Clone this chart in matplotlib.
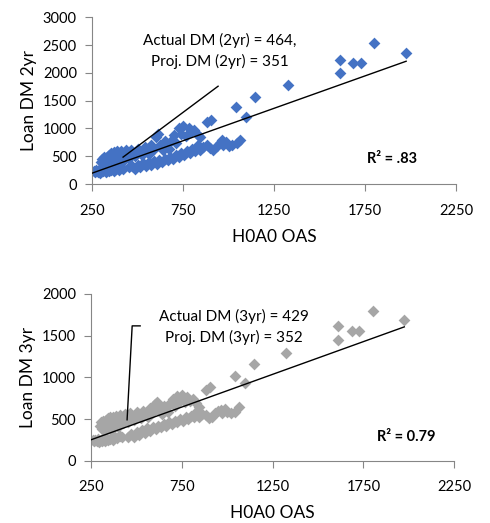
import matplotlib
matplotlib.use("Agg")
import matplotlib.pyplot as plt

plt.rcParams["font.family"] = ["Lato", "DejaVu Sans"]

# H0A0 OAS (shared x for both panels)
oas = [258, 265, 272, 280, 288, 295, 302, 310, 318, 325, 335, 345, 355, 368, 380, 395, 410, 420,
       300, 305, 312, 318, 322, 328, 333, 338, 342, 348, 352, 358, 362, 368, 372, 378, 385, 392,
       400, 408, 415, 425, 435, 445, 455, 465, 475, 488, 500, 512, 525, 538, 550, 562, 575, 588,
       600, 612, 625, 638, 650, 662, 675, 688, 700, 712, 725, 738, 750, 765, 780, 795, 810, 830, 845,
       455, 470, 485, 500, 515, 530, 545, 560, 575, 590, 605, 620, 635, 650, 665, 680, 695, 710,
       725, 740, 755, 770, 785, 800, 815, 830, 845, 860, 880, 900, 915, 935, 950, 965, 970, 985,
       1000, 1020, 1045, 1063,
       880, 905, 1040, 1095, 1145, 1325, 1610, 1610, 1685, 1728, 1800, 1975]

dm_2yr = [230, 210, 250, 220, 260, 205, 240, 230, 270, 215, 250, 235, 260, 240, 280, 255, 300, 270,
          400, 460, 360, 480, 420, 330, 490, 430, 520, 380, 560, 470, 340, 580, 500, 420, 590, 480,
          380, 600, 520, 440, 610, 540, 470, 620, 560, 500, 640, 590, 520, 660, 610, 540, 700, 640,
          850, 900, 700, 620, 780, 720, 640, 800, 880, 740, 1000, 900, 1040, 860, 1000, 940, 980, 880, 840,
          300, 330, 280, 350, 310, 380, 320, 400, 350, 420, 370, 440, 400, 460, 430, 490, 460, 520,
          490, 560, 520, 600, 560, 640, 600, 700, 610, 660, 700, 650, 610, 680, 740, 790, 700, 760,
          680, 700, 735, 790,
          1115, 1150, 1380, 1200, 1560, 1780, 1995, 2240, 2170, 2170, 2530, 2350]

dm_3yr = [245, 235, 250, 240, 255, 230, 250, 240, 260, 235, 255, 245, 265, 250, 280, 270, 300, 285,
          420, 460, 380, 480, 430, 360, 490, 440, 510, 390, 520, 470, 370, 530, 490, 430, 540, 480,
          400, 550, 510, 450, 560, 520, 470, 570, 540, 490, 590, 560, 510, 600, 570, 520, 630, 590,
          680, 710, 620, 560, 660, 630, 580, 700, 740, 660, 780, 720, 790, 700, 770, 720, 740, 690, 650,
          290, 320, 280, 340, 310, 370, 330, 390, 360, 410, 380, 420, 400, 440, 420, 460, 440, 480,
          460, 500, 480, 520, 500, 540, 520, 580, 520, 560, 550, 515, 530, 570, 600, 610, 575, 620,
          590, 575, 590, 640,
          850, 890, 1020, 935, 1160, 1295, 1450, 1610, 1560, 1560, 1800, 1690]

# trend lines (end points)
fit_x = [250, 1975]
fit_2yr = [197, 2209]
fit_3yr = [252, 1605]

# leader lines to the "actual DM" point
lead2_x = [420, 942]
lead2_y = [485, 1760]
lead3_x = [448, 476, 520]
lead3_y = [491, 1617, 1617]

x_ticks = [250, 750, 1250, 1750, 2250]
AXIS_GREY = "#868686"


def style_axes(ax, yticks, ylabel):
    ax.set_xlim(250, 2250)
    ax.set_xticks(x_ticks)
    ax.set_ylim(0, yticks[-1])
    ax.set_yticks(yticks)
    for side in ["top", "right"]:
        ax.spines[side].set_visible(False)
    for side in ["left", "bottom"]:
        ax.spines[side].set_color(AXIS_GREY)
    ax.tick_params(direction="out", length=5, color=AXIS_GREY, labelsize=10.5)
    ax.tick_params(axis="x", pad=9)
    ax.tick_params(axis="y", pad=6)
    ax.set_xlabel("H0A0 OAS", fontsize=12.5, labelpad=8)
    ax.set_ylabel(ylabel, fontsize=12.5, labelpad=4)


fig = plt.figure(figsize=(4.9, 5.23), dpi=100)

ax1 = fig.add_axes([0.188, 0.648, 0.743, 0.319])
ax1.scatter(oas, dm_2yr, marker="D", s=36, color="#4472C4", linewidths=0, zorder=2)
ax1.plot(fit_x, fit_2yr, color="black", lw=1, zorder=3)
ax1.plot(lead2_x, lead2_y, color="black", lw=1, zorder=3)
ax1.text(953, 2390, "Actual DM (2yr) = 464,\nProj. DM (2yr) = 351", ha="center", va="center",
         fontsize=11, linespacing=1.45)
ax1.text(1761, 449, "R² = .83", ha="left", va="center", fontsize=10.5, fontweight="bold")
style_axes(ax1, [0, 500, 1000, 1500, 2000, 2500, 3000], "Loan DM 2yr")

ax2 = fig.add_axes([0.186, 0.119, 0.741, 0.319])
ax2.scatter(oas, dm_3yr, marker="D", s=36, color="#A6A6A6", linewidths=0, zorder=2)
ax2.plot(fit_x, fit_3yr, color="black", lw=1, zorder=3)
ax2.plot(lead3_x, lead3_y, color="black", lw=1, zorder=3)
ax2.text(1035, 1605, "Actual DM (3yr) = 429\nProj. DM (3yr) = 352", ha="center", va="center",
         fontsize=11, linespacing=1.45)
ax2.text(1826, 288, "R² = 0.79", ha="left", va="center", fontsize=10.5, fontweight="bold")
style_axes(ax2, [0, 500, 1000, 1500, 2000], "Loan DM 3yr")

fig.savefig("out.png", dpi=100)
